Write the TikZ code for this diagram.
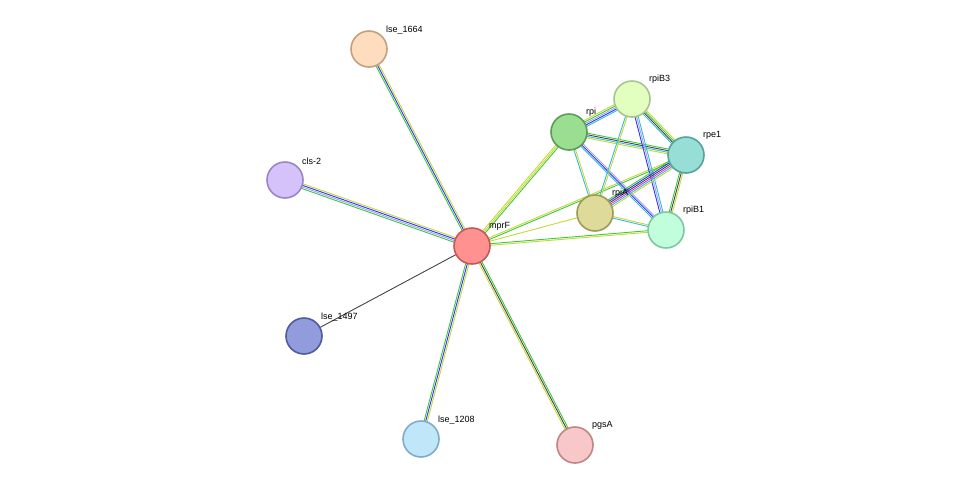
\documentclass[tikz,border=0pt]{standalone}
\usepackage{fontspec}
\setmainfont{Liberation Sans}
\usetikzlibrary{calc}
\definecolor{cg}{HTML}{3DC93A}\definecolor{cy}{HTML}{C4D838}\definecolor{cb}{HTML}{3333EE}
\definecolor{cc}{HTML}{33BBDD}\definecolor{cd}{HTML}{444444}\definecolor{cp}{HTML}{A0A0FF}\definecolor{cmag}{HTML}{DD33DD}
\definecolor{f1}{HTML}{FF9191}\definecolor{d1}{HTML}{C05A5A}
\definecolor{f2}{HTML}{FDDDBE}\definecolor{d2}{HTML}{C4A07E}
\definecolor{f3}{HTML}{D5C2FA}\definecolor{d3}{HTML}{9A86C6}
\definecolor{f4}{HTML}{929BDB}\definecolor{d4}{HTML}{505B9E}
\definecolor{f5}{HTML}{C0E6FA}\definecolor{d5}{HTML}{80ACCA}
\definecolor{f6}{HTML}{F8C7C7}\definecolor{d6}{HTML}{C08585}
\definecolor{f7}{HTML}{9ADE91}\definecolor{d7}{HTML}{5E9C55}
\definecolor{f8}{HTML}{E2FFC0}\definecolor{d8}{HTML}{A8C48D}
\definecolor{f9}{HTML}{96DED6}\definecolor{d9}{HTML}{55A39A}
\definecolor{f10}{HTML}{DEDA99}\definecolor{d10}{HTML}{9E9A58}
\definecolor{f11}{HTML}{C1FFDC}\definecolor{d11}{HTML}{80C6A2}
\newcommand{\medge}[3]{%
 \foreach \c [count=\i] in {#3}{\xdef\nn{\i}}%
 \foreach \c [count=\i] in {#3}{%
  \pgfmathsetmacro{\off}{(\i-(\nn+1)/2)*1.6}%
  \draw[color=\c,line width=0.9pt] ($(#1)!\off pt!90:(#2)$) -- ($(#2)!\off pt!-90:(#1)$);}}
\tikzset{prot/.style 2 args={circle,minimum size=36pt,inner sep=0pt,line width=1.6pt,fill=#1,draw=#2},
 lab/.style={font=\fontsize{9pt}{10pt}\selectfont,anchor=south west,inner sep=1pt}}
\begin{document}
\begin{tikzpicture}[x=1pt,y=-1pt]
\useasboundingbox (0,0) rectangle (975,491);
\coordinate (mprF) at (472,246);
\coordinate (l1664) at (369,49);
\coordinate (cls) at (285,180);
\coordinate (l1497) at (304,336);
\coordinate (l1208) at (421,439);
\coordinate (pgsA) at (575,445);
\coordinate (rpi) at (569,132);
\coordinate (rpiB3) at (632,99);
\coordinate (rpe1) at (686,155);
\coordinate (rpiA) at (595,213);
\coordinate (rpiB1) at (666,230);
\medge{mprF}{l1664}{cy,cb,cg}
\medge{mprF}{cls}{cy,cb,cp,cg}
\draw[cd,line width=0.9pt] (mprF) -- (l1497);
\medge{mprF}{l1208}{cg,cb,cy}
\medge{mprF}{pgsA}{cy,cd,cg}
\medge{mprF}{rpi}{cg,cy,cy}
\medge{mprF}{rpe1}{cg,cy}
\medge{mprF}{rpiA}{cy}
\medge{mprF}{rpiB1}{cy,cg}
\medge{rpi}{rpiB3}{cc,cb,cp,cg,cy}
\medge{rpi}{rpe1}{cy,cc,cd,cg}
\medge{rpi}{rpiA}{cc,cy}
\medge{rpi}{rpiB1}{cc,cb,cp}
\medge{rpiB3}{rpe1}{cc,cd,cg,cy}
\medge{rpiB3}{rpiA}{cc,cy}
\medge{rpiB3}{rpiB1}{cb,cp,cc}
\medge{rpe1}{rpiA}{cg,cb,cd,cmag,cc,cy}
\medge{rpe1}{rpiB1}{cg,cd,cy}
\medge{rpiA}{rpiB1}{cc,cy}
\node[prot={f1}{d1}] (n1) at (mprF) {};
\node[prot={f2}{d2}] (n2) at (l1664) {};
\node[prot={f3}{d3}] (n3) at (cls) {};
\node[prot={f4}{d4}] (n4) at (l1497) {};
\node[prot={f5}{d5}] (n5) at (l1208) {};
\node[prot={f6}{d6}] (n6) at (pgsA) {};
\node[prot={f7}{d7}] (n7) at (rpi) {};
\node[prot={f8}{d8}] (n8) at (rpiB3) {};
\node[prot={f9}{d9}] (n9) at (rpe1) {};
\node[prot={f10}{d10}] (n10) at (rpiA) {};
\node[prot={f11}{d11}] (n11) at (rpiB1) {};
\node[lab] at (488,232) {mprF};
\node[lab] at (385,35) {lse\_1664};
\node[lab] at (301,166) {cls-2};
\node[lab] at (320,322) {lse\_1497};
\node[lab] at (437,425) {lse\_1208};
\node[lab] at (591,431) {pgsA};
\node[lab] at (585,118) {rpi};
\node[lab] at (648,85) {rpiB3};
\node[lab] at (702,141) {rpe1};
\node[lab] at (611,199) {rpiA};
\node[lab] at (682,216) {rpiB1};
\end{tikzpicture}
\end{document}
